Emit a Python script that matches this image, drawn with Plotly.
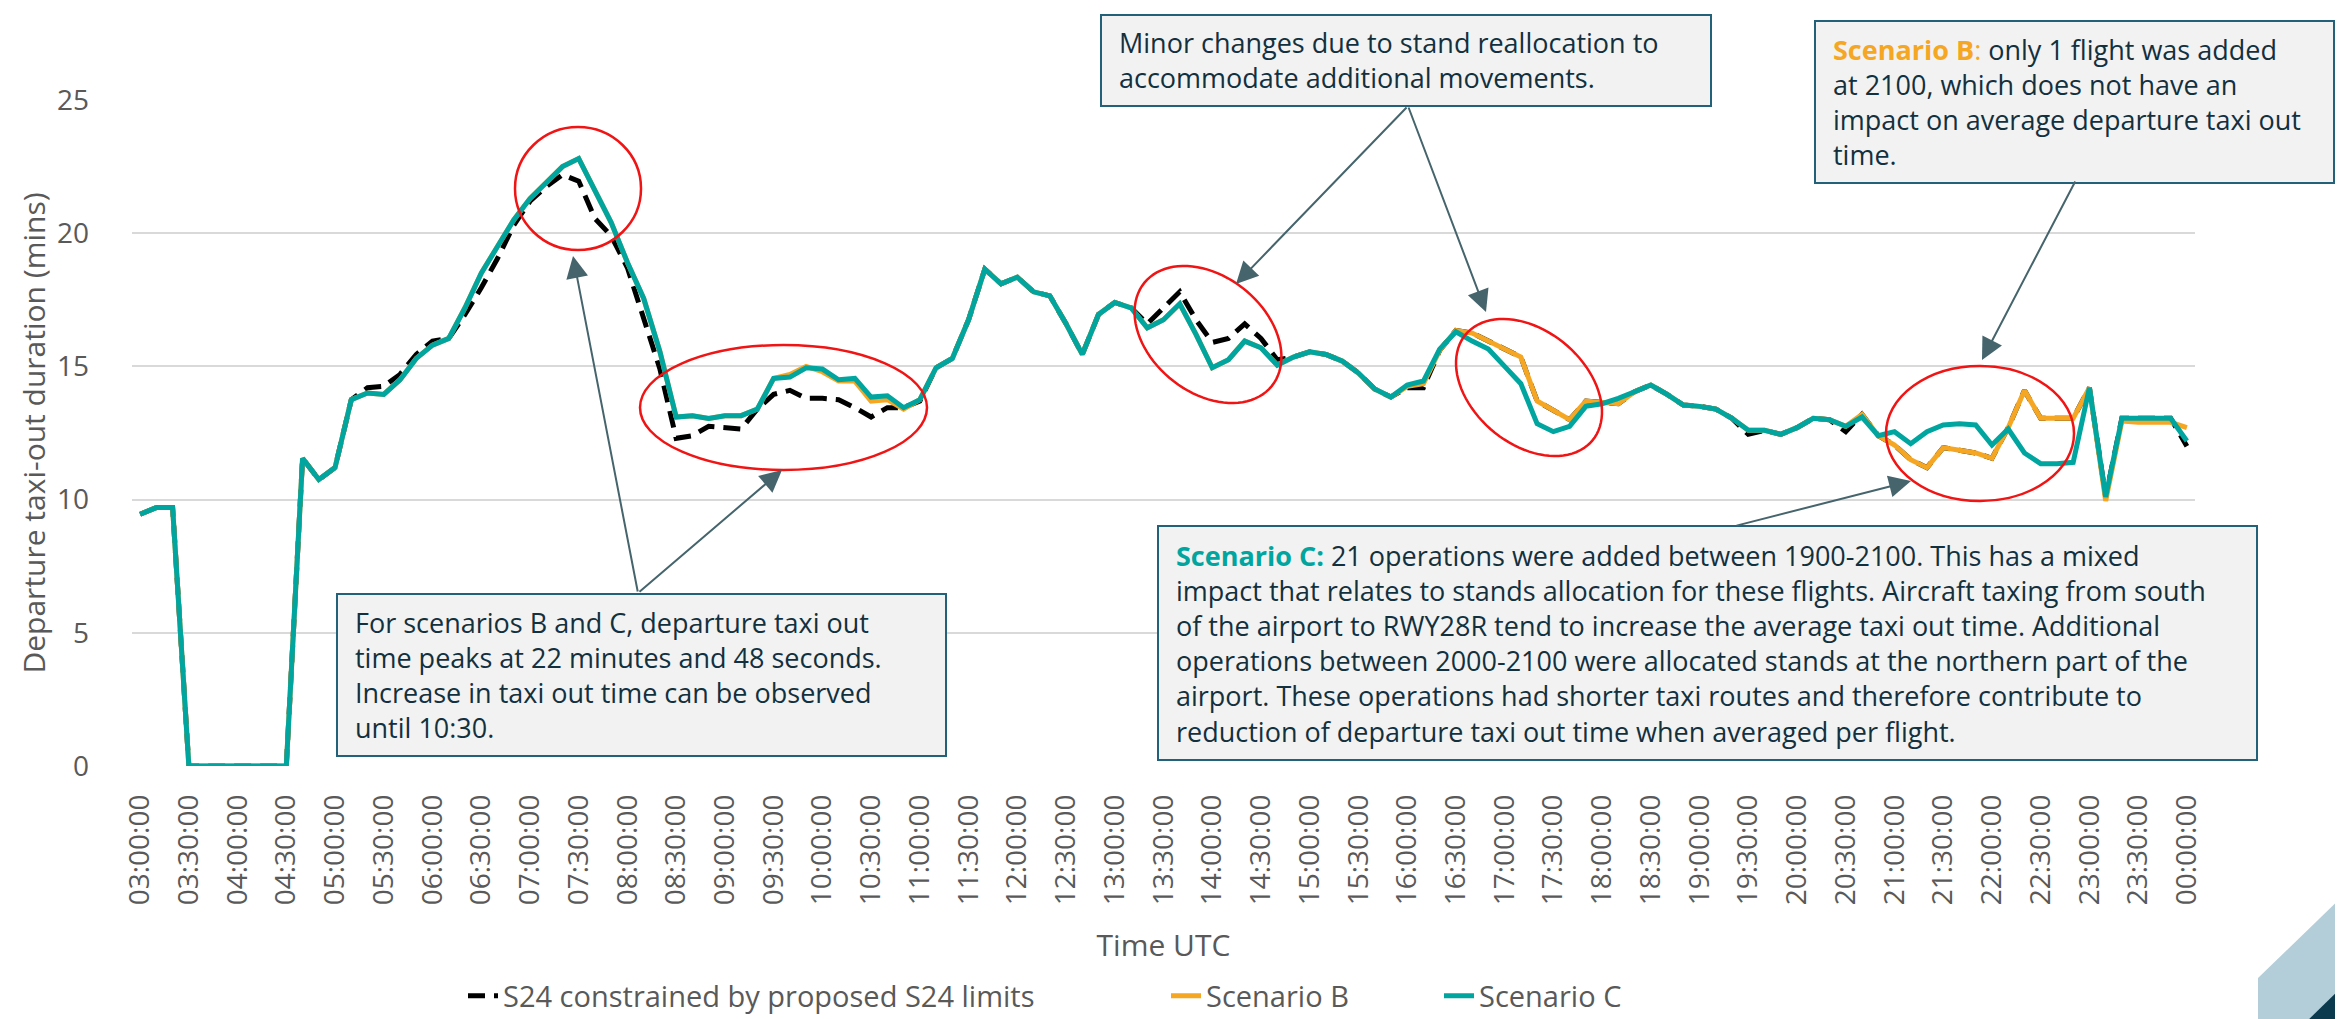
import math
import plotly.graph_objects as go

# ---------------- data ----------------
times = []
for k in range(127):
    m = 180 + 10 * k
    times.append(f"{(m // 60) % 24:02d}:{m % 60:02d}:00")
tick_labels = times[::3]

scenario_c = [
    9.45, 9.7, 9.7, 0, 0, 0, 0, 0, 0, 0,
    11.55, 10.75, 11.2, 13.75, 14.0, 13.95, 14.5, 15.3, 15.8, 16.05,
    17.2, 18.5, 19.5, 20.5, 21.3, 21.9, 22.5, 22.8, 21.55, 20.4,
    18.9, 17.55, 15.55, 13.1, 13.15, 13.05, 13.15, 13.15, 13.4, 14.55,
    14.6, 14.95, 14.9, 14.5, 14.55, 13.85, 13.9, 13.45, 13.75, 14.95,
    15.3, 16.75, 18.65, 18.1, 18.35, 17.8, 17.65, 16.6, 15.45, 16.95,
    17.4, 17.2, 16.45, 16.75, 17.35, 16.2, 14.95, 15.25, 15.95, 15.7,
    15.05, 15.35, 15.55, 15.45, 15.2, 14.75, 14.15, 13.85, 14.3, 14.45,
    15.65, 16.3, 15.95, 15.65, 15.0, 14.35, 12.85, 12.55, 12.75, 13.5,
    13.6, 13.8, 14.05, 14.3, 13.95, 13.55, 13.5, 13.4, 13.05, 12.6,
    12.6, 12.45, 12.7, 13.05, 13.0, 12.75, 13.1, 12.4, 12.55, 12.1,
    12.55, 12.8, 12.85, 12.8, 12.05, 12.65, 11.75, 11.35, 11.35, 11.4,
    14.2, 10.1, 13.05, 13.05, 13.05, 13.05, 12.2,
]

scenario_b = [
    9.45, 9.7, 9.7, 0, 0, 0, 0, 0, 0, 0,
    11.55, 10.75, 11.2, 13.75, 14.0, 13.95, 14.5, 15.3, 15.8, 16.05,
    17.2, 18.5, 19.5, 20.5, 21.3, 21.9, 22.5, 22.8, 21.55, 20.4,
    18.9, 17.55, 15.55, 13.1, 13.15, 13.05, 13.15, 13.15, 13.4, 14.55,
    14.7, 15.0, 14.8, 14.45, 14.45, 13.7, 13.75, 13.4, 13.75, 14.95,
    15.3, 16.75, 18.65, 18.1, 18.35, 17.8, 17.65, 16.6, 15.45, 16.95,
    17.4, 17.2, 16.45, 16.75, 17.35, 16.2, 14.95, 15.25, 15.95, 15.7,
    15.05, 15.35, 15.55, 15.45, 15.2, 14.75, 14.15, 13.85, 14.25, 14.35,
    15.6, 16.35, 16.25, 15.95, 15.65, 15.35, 13.7, 13.35, 13.0, 13.7,
    13.65, 13.6, 14.05, 14.3, 13.95, 13.55, 13.5, 13.4, 13.05, 12.6,
    12.6, 12.45, 12.7, 13.05, 13.0, 12.75, 13.2, 12.4, 12.05, 11.5,
    11.2, 11.95, 11.85, 11.75, 11.55, 12.7, 14.1, 13.05, 13.05, 13.05,
    14.2, 9.95, 12.95, 12.9, 12.9, 12.9, 12.7,
]

s24_constrained = [
    9.45, 9.7, 9.7, 0, 0, 0, 0, 0, 0, 0,
    11.55, 10.75, 11.2, 13.75, 14.2, 14.25, 14.7, 15.45, 15.95, 16.05,
    16.95, 17.95, 19.05, 20.3, 21.2, 21.75, 22.2, 21.95, 20.55, 19.9,
    18.7, 16.8, 14.9, 12.3, 12.4, 12.75, 12.7, 12.65, 13.4, 13.95,
    14.1, 13.8, 13.8, 13.75, 13.45, 13.1, 13.45, 13.45, 13.7, 14.95,
    15.3, 16.75, 18.65, 18.1, 18.35, 17.8, 17.65, 16.6, 15.45, 16.95,
    17.4, 17.2, 16.6, 17.2, 17.8, 16.75, 15.9, 16.05, 16.6, 16.05,
    15.25, 15.35, 15.55, 15.45, 15.2, 14.75, 14.15, 13.85, 14.2, 14.2,
    15.6, 16.35, 16.25, 15.95, 15.65, 15.35, 13.7, 13.35, 13.0, 13.7,
    13.65, 13.6, 14.05, 14.3, 13.95, 13.55, 13.5, 13.4, 13.05, 12.45,
    12.6, 12.45, 12.7, 13.05, 13.0, 12.55, 13.2, 12.4, 12.05, 11.5,
    11.2, 11.95, 11.85, 11.75, 11.55, 12.7, 14.1, 13.05, 13.05, 13.05,
    14.2, 10.1, 13.05, 13.05, 13.05, 13.05, 12.0,
]

series_names = ["S24 constrained by proposed S24 limits", "Scenario B", "Scenario C"]

# ---------------- style ----------------
W, H = 2343, 1019
ML, MR, MT, MB = 124, 156, 92, 261
PW, PH = W - ML - MR, H - MT - MB
FONT = "Open Sans"
GREY = "#595959"
TEAL = "#00A5A0"
ORANGE = "#F5A623"
TXT = "#12303E"
BOXLINE = "#23607A"
ARROW = "#45646C"
RED = "#F01414"


def px(x):
    return (x - ML) / PW


def py(y):
    return (H - MB - y) / PH


fig = go.Figure()
fig.add_trace(go.Scatter(x=times, y=s24_constrained, name=series_names[0], mode="lines",
                         line=dict(color="black", width=5, dash="17px,9px"), legend="legend"))
fig.add_trace(go.Scatter(x=times, y=scenario_b, name=series_names[1], mode="lines",
                         line=dict(color=ORANGE, width=5), legend="legend2"))
fig.add_trace(go.Scatter(x=times, y=scenario_c, name=series_names[2], mode="lines",
                         line=dict(color=TEAL, width=5), legend="legend3"))

shapes = []
annotations = []

# red ellipses (axis aligned)
for (x0, y0, x1, y1) in [(507, 119, 633, 242), (632, 337, 919, 462), (1878, 358, 2066, 493)]:
    shapes.append(dict(type="circle", xref="paper", yref="paper",
                       x0=px(x0), x1=px(x1), y0=py(y1), y1=py(y0),
                       line=dict(color=RED, width=2.5), layer="above"))


def ellipse_path(cx, cy, a, b, th_deg, n=90):
    th = math.radians(th_deg)
    pts = []
    for k in range(n):
        t = 2 * math.pi * k / n
        xx = cx + a * math.cos(t) * math.cos(th) - b * math.sin(t) * math.sin(th)
        yy = cy + a * math.cos(t) * math.sin(th) + b * math.sin(t) * math.cos(th)
        pts.append(f"{px(xx):.5f},{py(yy):.5f}")
    return "M" + " L".join(pts) + " Z"


for (cx, cy, a, b, th) in [(1200, 326.5, 82, 58, 39), (1521, 379.5, 82.6, 56.6, 40)]:
    shapes.append(dict(type="path", xref="paper", yref="paper", path=ellipse_path(cx, cy, a, b, th),
                       line=dict(color=RED, width=2.5), layer="above"))

# text boxes
boxes = [
    ((329, 586, 938, 748), ["For scenarios B and C, departure taxi out",
                            "time peaks at 22 minutes and 48 seconds.",
                            "Increase in taxi out time can be observed",
                            "until 10:30."]),
    ((1093, 7, 1703, 98), ["Minor changes due to stand reallocation to",
                           "accommodate additional movements."]),
    ((1807, 13, 2326, 175), [f"<span style='color:{ORANGE}'><b>Scenario B</b>:</span> only 1 flight was added",
                             "at 2100, which does not have an",
                             "impact on average departure taxi out",
                             "time."]),
    ((1150, 518, 2249, 752), [f"<span style='color:{TEAL}'><b>Scenario C:</b></span> 21 operations were added between 1900-2100. This has a mixed",
                              "impact that relates to stands allocation for these flights. Aircraft taxing from south",
                              "of the airport to RWY28R tend to increase the average taxi out time. Additional",
                              "operations between 2000-2100 were allocated stands at the northern part of the",
                              "airport. These operations had shorter taxi routes and therefore contribute to",
                              "reduction of departure taxi out time when averaged per flight."]),
]
for (x0, y0, x1, y1), lines in boxes:
    shapes.append(dict(type="rect", xref="paper", yref="paper",
                       x0=px(x0), x1=px(x1), y0=py(y1), y1=py(y0),
                       fillcolor="#F2F2F2", line=dict(color=BOXLINE, width=2), layer="above"))
    annotations.append(dict(xref="paper", yref="paper", x=px(x0 + 16), y=py((y0 + y1) / 2),
                            xanchor="left", yanchor="middle", align="left", showarrow=False,
                            text="<br>".join(lines), font=dict(family=FONT, size=27, color=TXT)))

# arrows: (head, tail) in pixels
arrows = [((565, 248), (630, 585)), ((774, 462), (630, 585)),
          ((1228, 276), (1400, 98)), ((1478, 304), (1400, 98)),
          ((1974, 352), (2068, 172)), ((1903, 473), (1727, 518))]
for (hx, hy), (tx, ty) in arrows:
    annotations.append(dict(xref="paper", yref="paper", x=px(hx), y=py(hy),
                            ax=tx - hx, ay=ty - hy, axref="pixel", ayref="pixel",
                            text="", showarrow=True, arrowhead=2, arrowsize=2.2,
                            arrowwidth=2, arrowcolor=ARROW, standoff=0, startstandoff=0))

# slide decoration bottom-right
shapes.append(dict(type="path", xref="paper", yref="paper", layer="below",
                   path=f"M{px(2343)},{py(880)} L{px(2250)},{py(970)} L{px(2250)},{py(1019)} L{px(2343)},{py(1019)} Z",
                   fillcolor="#B3CED8", line=dict(width=0)))
shapes.append(dict(type="path", xref="paper", yref="paper", layer="below",
                   path=f"M{px(2343)},{py(970)} L{px(2293)},{py(1019)} L{px(2343)},{py(1019)} Z",
                   fillcolor="#0B3A4F", line=dict(width=0)))

leg_common = dict(orientation="h", yanchor="middle", y=py(988), xanchor="left",
                  bgcolor="rgba(0,0,0,0)", font=dict(family=FONT, size=29, color=GREY))

fig.update_layout(
    width=W, height=H,
    margin=dict(l=ML, r=MR, t=MT, b=MB, autoexpand=False),
    paper_bgcolor="white", plot_bgcolor="white",
    font=dict(family=FONT, color=GREY),
    showlegend=True,
    legend=dict(x=px(455), **leg_common),
    legend2=dict(x=px(1158), **leg_common),
    legend3=dict(x=px(1431), **leg_common),
    shapes=shapes,
    annotations=annotations,
    xaxis=dict(type="category", categoryorder="array", categoryarray=times,
               range=[-0.5, len(times) - 0.5], tickmode="array", tickvals=tick_labels,
               ticktext=tick_labels, tickangle=-90, showgrid=False, zeroline=False,
               showline=False, ticks="", ticklabelstandoff=22,
               tickfont=dict(family=FONT, size=28, color=GREY),
               title=dict(text="Time UTC", standoff=30, font=dict(family=FONT, size=30, color=GREY))),
    yaxis=dict(range=[0, 25], dtick=5, tick0=0, showgrid=True, gridcolor="#D9D9D9", gridwidth=2,
               zeroline=False, showline=False, ticks="", ticklabelstandoff=42,
               tickfont=dict(family=FONT, size=28, color=GREY),
               title=dict(text="Departure taxi-out duration (mins)", standoff=2,
                          font=dict(family=FONT, size=30, color=GREY))),
)

fig.write_html("out.html")
